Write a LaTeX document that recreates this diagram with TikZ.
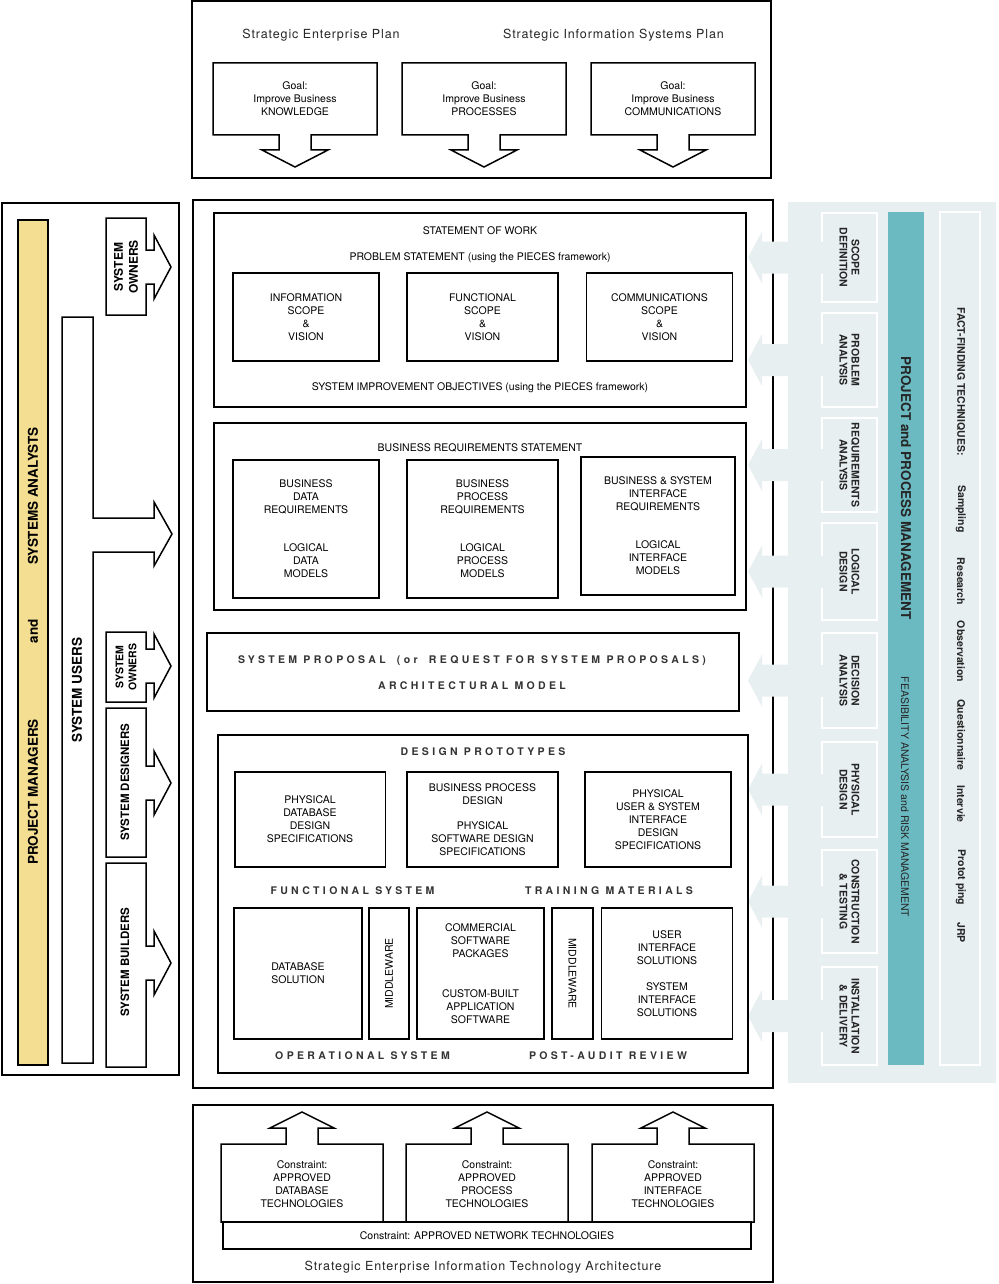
\documentclass[tikz,border=0pt]{standalone}
\usepackage{fontspec}
\setmainfont{TeX Gyre Heros}
\newfontfamily\spacedfont[LetterSpace=32]{TeX Gyre Heros}
\newfontfamily\widefont[LetterSpace=7]{TeX Gyre Heros}

\begin{document}
\begin{tikzpicture}[x=1pt,y=-1pt,
    shp/.style={draw,line width=1.5pt,fill=white},
    box/.style={draw,line width=1.5pt,fill=white,align=center,inner sep=0pt,font=\fontsize{10.5}{13}\selectfont},
    lbl/.style={align=center,inner sep=0pt,font=\fontsize{10.5}{13}\selectfont},
    spaced/.style={align=center,inner sep=0pt,text=black!80,font=\spacedfont\bfseries\fontsize{10.5}{26}\selectfont},
    plan/.style={inner sep=0pt,text=black!85,font=\widefont\fontsize{12.5}{15}\selectfont},
    role/.style={align=center,inner sep=0pt,rotate=90,font=\bfseries\fontsize{13.5}{16}\selectfont},
    phase/.style={align=center,inner sep=0pt,rotate=-90,text=black!85,font=\bfseries\fontsize{10.5}{12}\selectfont},
    ffword/.style={inner sep=0pt,rotate=-90,text=black!85,font=\bfseries\fontsize{10.5}{12}\selectfont}]
    %colores
    \definecolor{panel}{RGB}{232,239,241}
    \definecolor{yel}{RGB}{244,222,146}
    \definecolor{tealbar}{RGB}{107,186,194}
    \useasboundingbox (0,0) rectangle (998,1284);

    % Planes estrategicos
    \draw[shp,line width=1.8pt] (192,1) rectangle (771,178);
    \node[plan] (sep) at (321,35) {Strategic Enterprise Plan};
    \node[plan] (sisp) at (613.5,35) {Strategic Information Systems Plan};
    \foreach \cx/\gtxt [count=\i] in {295/KNOWLEDGE,484/PROCESSES,673/COMMUNICATIONS}{
        \draw[shp] ({\cx-82},63) -- ({\cx+82},63) -- ({\cx+82},135) -- ({\cx+16},135) -- ({\cx+16},150) -- ({\cx+33},150) -- (\cx,167)
            -- ({\cx-33},150) -- ({\cx-16},150) -- ({\cx-16},135) -- ({\cx-82},135) -- cycle;
        \node[lbl] (goal\i) at (\cx,99) {Goal:\\Improve Business\\\gtxt};
    }

    % Caja principal
    \draw[shp,line width=1.8pt] (193,200) rectangle (773,1088);

    % Panel derecho, fases
    \fill[panel] (788,202) rectangle (996,1083);
    \foreach \ya/\yb/\ptxt [count=\i] in {213/302/{SCOPE\\DEFINITION},313/407/{PROBLEM\\ANALYSIS},418/512/{REQUIREMENTS\\ANALYSIS},
        523/620/{LOGICAL\\DESIGN},633/728/{DECISION\\ANALYSIS},742/837/{PHYSICAL\\DESIGN},
        850/953/{CONSTRUCTION\\\& TESTING},967/1065/{INSTALLATION\\\& DELIVERY}}{
        \pgfmathsetmacro\yc{(\ya+\yb)/2}
        \fill[panel] (822,\ya) -- (877,\ya) -- (877,\yb) -- (822,\yb) -- (822,{\yc+16}) -- (762,{\yc+16}) -- (762,{\yc+26})
            -- (748,\yc) -- (762,{\yc-26}) -- (762,{\yc-16}) -- (822,{\yc-16}) -- cycle;
        \draw[white,line width=1.5pt] (822,{\yc-16}) -- (822,\ya) -- (877,\ya) -- (877,\yb) -- (822,\yb) -- (822,{\yc+16});
        \node[phase] (phase\i) at (849.5,\yc) {\ptxt};
    }
    \fill[tealbar] (888,212) rectangle (924,1065);
    \node[phase,font=\bfseries\fontsize{13.5}{16}\selectfont] (ppm) at (906,488) {PROJECT and PROCESS MANAGEMENT};
    \node[phase,font=\fontsize{10.5}{12}\selectfont] (fra) at (905,797) {FEASIBILITY ANALYSIS and RISK MANAGEMENT};
    \draw[white,line width=1.5pt] (940,212) rectangle (980,1065);
    \foreach \yc/\fw [count=\i] in {381.5/FACT-FINDING TECHNIQUES:,509/Sampling,581.5/Research,651.5/Observation,
        735/Questionnaire,804/Intervie,877.5/Protot ping,932.5/JRP}
        \node[ffword] (ff\i) at (961,\yc) {\fw};

    % Statement of work
    \node[box,minimum width=532,minimum height=194] (sow) at (480,310) {};
    \node[lbl] (sowt) at (480,231) {STATEMENT OF WORK};
    \node[lbl] (probst) at (480,258) {PROBLEM STATEMENT (using the PIECES framework)};
    \foreach \cx/\w/\stxt [count=\i] in {306/146/INFORMATION,482.5/151/FUNCTIONAL,659.5/146/COMMUNICATIONS}
        \node[box,minimum width=\w,minimum height=88] (scope\i) at (\cx,317) {\stxt\\SCOPE\\\&\\VISION};
    \node[lbl] (sio) at (480,388) {SYSTEM IMPROVEMENT OBJECTIVES (using the PIECES framework)};

    % Requerimientos
    \node[box,minimum width=532,minimum height=187] (brs) at (480,516.5) {};
    \node[lbl] (brst) at (480,448) {BUSINESS REQUIREMENTS STATEMENT};
    \node[box,minimum width=146,minimum height=138] (datareq) at (306,529) {BUSINESS\\DATA\\REQUIREMENTS\\[25pt]LOGICAL\\DATA\\MODELS};
    \node[box,minimum width=151,minimum height=138] (procreq) at (482.5,529) {BUSINESS\\PROCESS\\REQUIREMENTS\\[25pt]LOGICAL\\PROCESS\\MODELS};
    \node[box,minimum width=154,minimum height=138] (intreq) at (658,526) {BUSINESS \& SYSTEM\\INTERFACE\\REQUIREMENTS\\[25pt]LOGICAL\\INTERFACE\\MODELS};

    % Propuesta
    \node[box,minimum width=532,minimum height=78] (prop) at (473,672) {};
    \node[spaced] (propt) at (472,673) {SYSTEM PROPOSAL\hspace{5pt} (or\hspace{5pt} REQUEST FOR SYSTEM PROPOSALS)\\ARCHITECTURAL MODEL};

    % Prototipos y sistema
    \node[box,minimum width=530,minimum height=338] (proto) at (483,904) {};
    \node[spaced] (protot) at (483,752) {DESIGN PROTOTYPES};
    \node[box,minimum width=150.5,minimum height=95] (dbspec) at (310,819.5) {PHYSICAL\\DATABASE\\DESIGN\\SPECIFICATIONS};
    \node[box,minimum width=151,minimum height=95] (swspec) at (482.5,819.5) {BUSINESS PROCESS\\DESIGN\\[12pt]PHYSICAL\\SOFTWARE DESIGN\\SPECIFICATIONS};
    \node[box,minimum width=146,minimum height=95] (uispec) at (658,819.5) {PHYSICAL\\USER \& SYSTEM\\INTERFACE\\DESIGN\\SPECIFICATIONS};
    \node[spaced] (funcsys) at (352.5,891) {FUNCTIONAL SYSTEM};
    \node[spaced] (train) at (609,891) {TRAINING MATERIALS};
    \node[box,minimum width=128,minimum height=131] (dbsol) at (298,973.5) {DATABASE\\SOLUTION};
    \node[box,minimum width=131,minimum height=40,rotate=90] (mwa) at (389,973.5) {MIDDLEWARE};
    \node[box,minimum width=127,minimum height=131] (cots) at (480.5,973.5) {COMMERCIAL\\SOFTWARE\\PACKAGES\\[27pt]CUSTOM-BUILT\\APPLICATION\\SOFTWARE};
    \node[box,minimum width=131,minimum height=41,rotate=-90] (mwb) at (572.5,973.5) {MIDDLEWARE};
    \node[box,minimum width=131,minimum height=131] (uisol) at (667,973.5) {USER\\INTERFACE\\SOLUTIONS\\[13pt]SYSTEM\\INTERFACE\\SOLUTIONS};
    \node[spaced] (opsys) at (362.5,1056) {OPERATIONAL SYSTEM};
    \node[spaced] (audit) at (608,1056) {POST-AUDIT REVIEW};

    % Arquitectura tecnologica
    \draw[shp,line width=1.8pt] (193,1105) rectangle (773,1282);
    \foreach \cx/\ctxt [count=\i] in {302/DATABASE,487/PROCESS,673/INTERFACE}{
        \draw[shp] ({\cx-81},1222) -- ({\cx-81},1144) -- ({\cx-16},1144) -- ({\cx-16},1128) -- ({\cx-32},1128) -- (\cx,1112)
            -- ({\cx+32},1128) -- ({\cx+16},1128) -- ({\cx+16},1144) -- ({\cx+81},1144) -- ({\cx+81},1222) -- cycle;
        \node[lbl] (cons\i) at (\cx,1184) {Constraint:\\APPROVED\\\ctxt\\TECHNOLOGIES};
    }
    \node[box,minimum width=528,minimum height=27] (net) at (487,1235.5) {Constraint: APPROVED NETWORK TECHNOLOGIES};
    \node[plan] (seita) at (483,1267) {Strategic Enterprise Information Technology Architecture};

    % Panel izquierdo, roles
    \draw[shp,line width=1.8pt] (2,203) rectangle (179,1075);
    \draw[shp,fill=yel] (18,220) rectangle (48,1065);
    \node[role] (sa) at (33,496) {SYSTEMS ANALYSTS};
    \node[role] (and) at (33,631) {and};
    \node[role] (pm) at (33,792) {PROJECT MANAGERS};
    \draw[shp] (62,317) -- (93,317) -- (93,518) -- (154,518) -- (154,502) -- (172,534) -- (154,566) -- (154,552) -- (93,552)
        -- (93,1063) -- (62,1063) -- cycle;
    \node[role] (users) at (77,690) {SYSTEM USERS};
    \foreach \ya/\yb/\yc in {218/315/267,632/702/666,708/857/783,863/1067/963}
        \draw[shp] (106,\ya) -- (146,\ya) -- (146,{\yc-17}) -- (154,{\yc-17}) -- (154,{\yc-32}) -- (171,\yc) -- (154,{\yc+32})
            -- (154,{\yc+17}) -- (146,{\yc+17}) -- (146,\yb) -- (106,\yb) -- cycle;
    \node[role,font=\bfseries\fontsize{12}{15}\selectfont] (owna) at (126,267) {SYSTEM\\OWNERS};
    \node[role,font=\bfseries\fontsize{10.5}{13}\selectfont] (ownb) at (126,667) {SYSTEM\\OWNERS};
    \node[role,font=\bfseries\fontsize{11.5}{14}\selectfont] (des) at (125,782) {SYSTEM DESIGNERS};
    \node[role,font=\bfseries\fontsize{11.5}{14}\selectfont] (bld) at (125,962) {SYSTEM BUILDERS};
\end{tikzpicture}
\end{document}
